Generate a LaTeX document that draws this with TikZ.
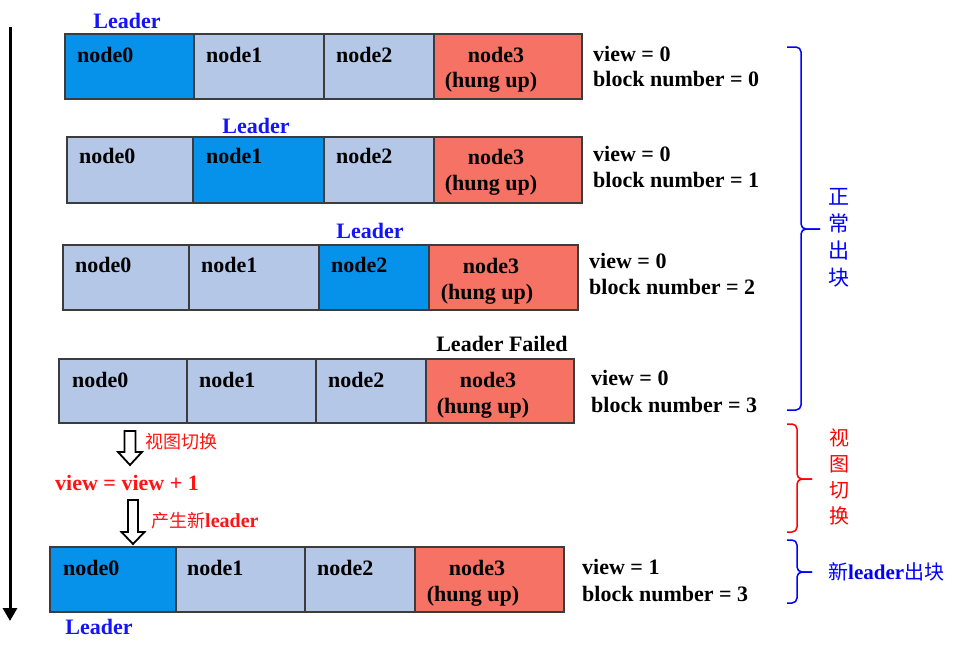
\documentclass[tikz,border=0pt]{standalone}
\usepackage{fontspec}
\setmainfont{Liberation Serif}
\newfontfamily\cjk{Noto Sans CJK SC}
\usetikzlibrary{arrows.meta,calc}
\definecolor{leadblue}{RGB}{6,145,234}
\definecolor{cellblue}{RGB}{180,199,231}
\definecolor{hungred}{RGB}{246,114,100}
\definecolor{txtblue}{RGB}{20,20,250}
\definecolor{txtred}{RGB}{255,20,20}
\definecolor{edge}{RGB}{60,60,60}
\tikzset{
  cellbase/.style={draw=edge, line width=1.5pt, anchor=north west, inner sep=0pt, outer sep=0pt},
  leadcell/.style={cellbase, fill=leadblue},
  normcell/.style={cellbase, fill=cellblue},
  hungcell/.style={cellbase, fill=hungred},
  lbl/.style={font=\fontsize{22}{26}\selectfont\bfseries, inner sep=0pt, anchor=base west},
  lblc/.style={font=\fontsize{22}{26}\selectfont\bfseries, inner sep=0pt, anchor=base},
  leaderlbl/.style={lblc, text=txtblue},
  redcjk/.style={font=\cjk\fontsize{18}{20}\selectfont, text=txtred, inner sep=0pt},
  hollow/.style={draw=black, fill=white, line width=1.8pt, line join=miter},
  bluebrace/.style={draw=blue, line width=1.5pt, rounded corners=5pt},
  redbrace/.style={draw=red, line width=1.5pt, rounded corners=5pt},
}
\newcommand{\mycell}[6]{\node[#2, minimum width={(#4-#3)*1pt}, minimum height={(#6-#5)*1pt}] (#1) at (#3,#5) {};}
\begin{document}
\begin{tikzpicture}[x=1pt, y=-1pt]
\useasboundingbox[fill=white] (0,0) rectangle (972,653);

% time arrow
\coordinate (tstart) at (10,27);
\coordinate (tend) at (10,621);
\draw[line width=3pt, -{Triangle[length=13pt, width=14pt]}] (tstart) -- (tend);

% ---------- row 1
\mycell{a0}{leadcell}{65}{194}{34}{99}
\mycell{a1}{normcell}{194}{324}{34}{99}
\mycell{a2}{normcell}{324}{434}{34}{99}
\mycell{a3}{hungcell}{434}{582}{34}{99}
\node[lbl] (a0t) at (77,62) {node0};
\node[lbl] (a1t) at (206,62) {node1};
\node[lbl] (a2t) at (336,62) {node2};
\node[lblc] (a3t) at (496,62) {node3};
\node[lblc] (a3h) at (491,87) {(hung up)};
\node[leaderlbl] (aL) at (127,28) {Leader};
\node[lbl] (av) at (593,61) {view = 0};
\node[lbl] (ab) at (593,86) {block number = 0};

% ---------- row 2
\mycell{b0}{normcell}{67}{193}{137}{203}
\mycell{b1}{leadcell}{193}{324}{137}{203}
\mycell{b2}{normcell}{324}{434}{137}{203}
\mycell{b3}{hungcell}{434}{582}{137}{203}
\node[lbl] (b0t) at (79,163) {node0};
\node[lbl] (b1t) at (206,163) {node1};
\node[lbl] (b2t) at (336,163) {node2};
\node[lblc] (b3t) at (496,164) {node3};
\node[lblc] (b3h) at (491,190) {(hung up)};
\node[leaderlbl] (bL) at (256,133) {Leader};
\node[lbl] (bv) at (593,161) {view = 0};
\node[lbl] (bb) at (593,187) {block number = 1};

% ---------- row 3
\mycell{c0}{normcell}{63}{189}{245}{310}
\mycell{c1}{normcell}{189}{319}{245}{310}
\mycell{c2}{leadcell}{319}{429}{245}{310}
\mycell{c3}{hungcell}{429}{578}{245}{310}
\node[lbl] (c0t) at (75,272) {node0};
\node[lbl] (c1t) at (201,272) {node1};
\node[lbl] (c2t) at (331,272) {node2};
\node[lblc] (c3t) at (491,273) {node3};
\node[lblc] (c3h) at (487,299) {(hung up)};
\node[leaderlbl] (cL) at (370,238) {Leader};
\node[lbl] (cv) at (589,268) {view = 0};
\node[lbl] (cb) at (589,294) {block number = 2};

% ---------- row 4
\mycell{d0}{normcell}{59}{187}{359}{423}
\mycell{d1}{normcell}{187}{316}{359}{423}
\mycell{d2}{normcell}{316}{426}{359}{423}
\mycell{d3}{hungcell}{426}{574}{359}{423}
\node[lbl] (d0t) at (72,387) {node0};
\node[lbl] (d1t) at (199,387) {node1};
\node[lbl] (d2t) at (328,387) {node2};
\node[lblc] (d3t) at (488,387) {node3};
\node[lblc] (d3h) at (483,413) {(hung up)};
\node[lblc] (dL) at (502,351) {Leader Failed};
\node[lbl] (dv) at (591,385) {view = 0};
\node[lbl] (db) at (591,412) {block number = 3};

% ---------- row 5
\mycell{e0}{leadcell}{50}{176}{547}{612}
\mycell{e1}{normcell}{176}{305}{547}{612}
\mycell{e2}{normcell}{305}{415}{547}{612}
\mycell{e3}{hungcell}{415}{564}{547}{612}
\node[lbl] (e0t) at (63,575) {node0};
\node[lbl] (e1t) at (187,575) {node1};
\node[lbl] (e2t) at (317,575) {node2};
\node[lblc] (e3t) at (477,575) {node3};
\node[lblc] (e3h) at (473,601) {(hung up)};
\node[leaderlbl] (eL) at (99,634) {Leader};
\node[lbl] (ev) at (582,574) {view = 1};
\node[lbl] (eb) at (582,601) {block number = 3};

% ---------- view change steps
\draw[hollow] (124.5,431) -- (135.5,431) -- (135.5,452) -- (142,452) -- (130,465)
  -- (118,452) -- (124.5,452) -- cycle;
\node[redcjk, anchor=west] (sw1) at (145,442) {视图切换};
\node[lbl, text=txtred] (vv) at (55,490) {view = view + 1};
\draw[hollow] (128,500) -- (138,500) -- (138,532) -- (144.5,532) -- (133,544)
  -- (121.5,532) -- (128,532) -- cycle;
\node[anchor=base west, inner sep=0pt, text=txtred] (nl) at (151,527)
  {{\cjk\fontsize{18}{20}\selectfont 产生新}{\fontsize{20}{22}\selectfont\bfseries leader}};

% ---------- braces
\draw[bluebrace] (787,47) -- (801,47) -- (801,229) -- (820,229);
\draw[bluebrace] (787,410) -- (801,410) -- (801,229) -- (820,229);
\node[align=center, inner sep=0pt, text=blue, font=\cjk\fontsize{21}{27}\selectfont] (g1) at (839,238) {正\\常\\出\\块};

\draw[redbrace] (787,424) -- (797,424) -- (797,479) -- (812,479);
\draw[redbrace] (787,532) -- (797,532) -- (797,479) -- (812,479);
\node[align=center, inner sep=0pt, text=red, font=\cjk\fontsize{20}{26}\selectfont] (g2) at (839,477) {视\\图\\切\\换};

\draw[bluebrace] (787,540) -- (797,540) -- (797,572) -- (812,572);
\draw[bluebrace] (787,603) -- (797,603) -- (797,572) -- (812,572);
\node[anchor=west, inner sep=0pt, text=blue] (g3) at (828,572)
  {{\cjk\fontsize{20}{22}\selectfont 新}{\fontsize{21}{24}\selectfont\bfseries leader}{\cjk\fontsize{20}{22}\selectfont 出块}};
\end{tikzpicture}
\end{document}
